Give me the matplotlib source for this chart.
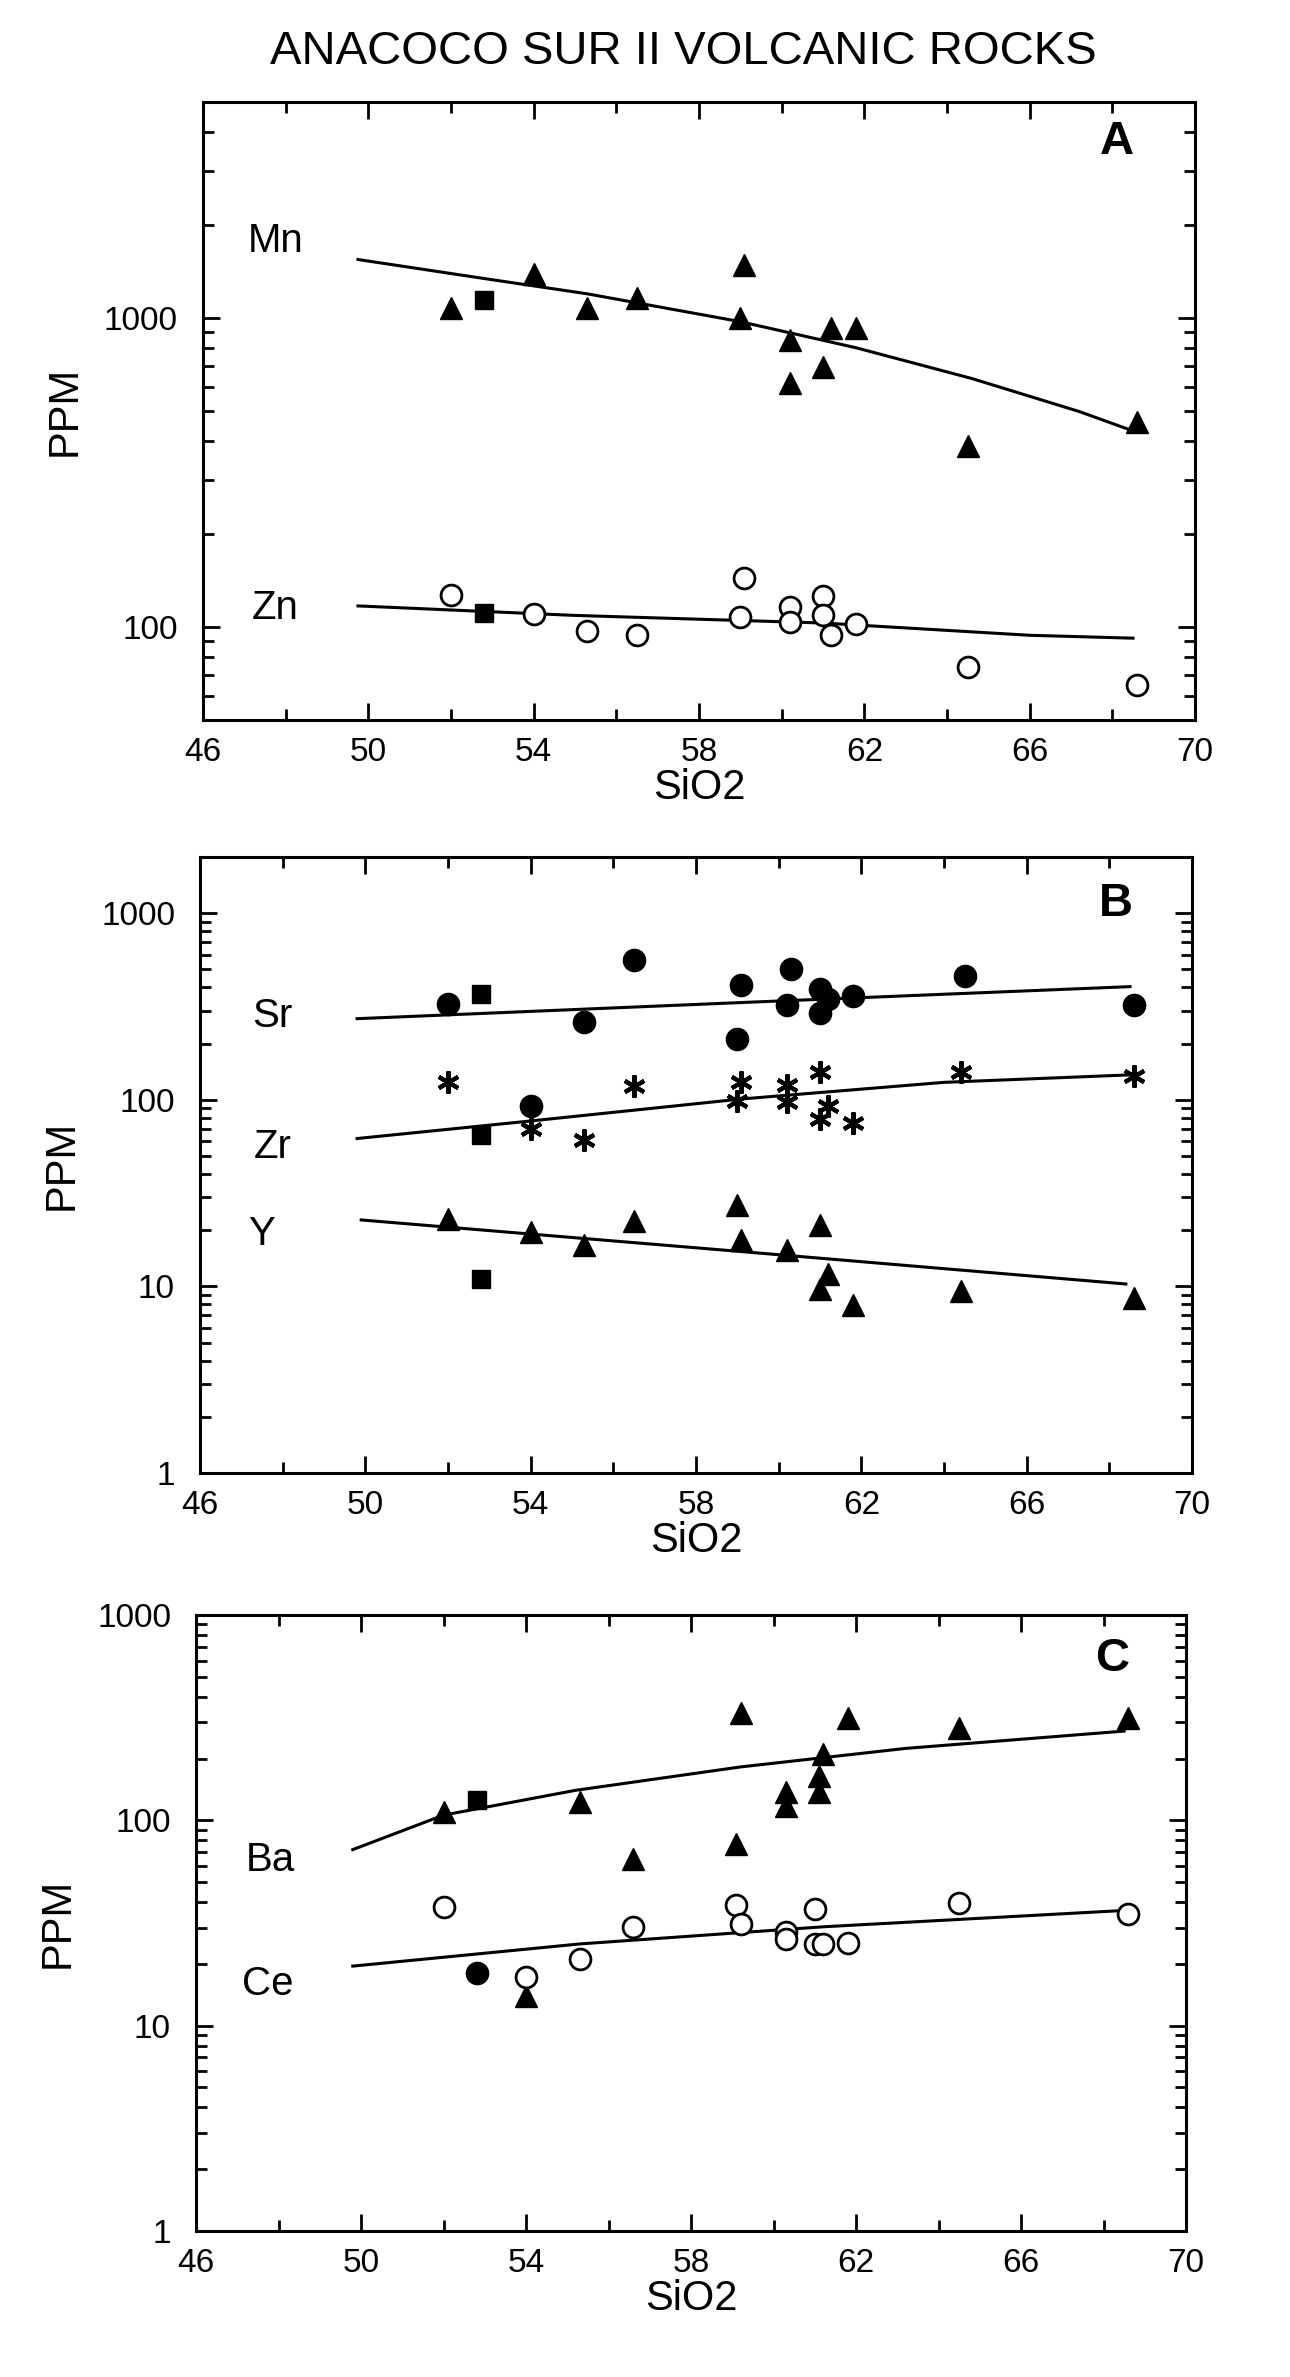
import matplotlib.pyplot as plt
from matplotlib.ticker import LogLocator, FixedLocator, MultipleLocator, NullFormatter

plt.rcParams['font.family'] = ['Liberation Sans', 'DejaVu Sans']

# ---- panel A : Mn, Zn ----
mn_x = [52.0, 54.0, 55.3, 56.5, 59.1, 59.0, 60.2, 61.2, 61.8, 60.2, 61.0, 64.5, 68.6]
mn_y = [1080, 1390, 1080, 1160, 1480, 1000, 850, 925, 925, 615, 695, 385, 460]
mn_sq_x, mn_sq_y = [52.8], [1145]
mn_fit_x = [49.75, 52.8, 55.3, 59.0, 61.8, 64.6, 67.2, 68.5]
mn_fit_y = [1546, 1342, 1197, 973, 801, 637, 498, 431]

zn_x = [52.0, 54.0, 55.3, 56.5, 59.1, 59.0, 60.2, 60.2, 61.0, 61.0, 61.2, 61.8, 64.5, 68.6]
zn_y = [127, 110, 97, 94, 144, 108, 116, 104, 126, 109, 94, 102, 74, 65]
zn_sq_x, zn_sq_y = [52.8], [111]
zn_fit_x = [49.75, 55.0, 61.0, 66.0, 68.5]
zn_fit_y = [117, 109, 103, 94, 92]

# ---- panel B : Sr, Zr, Y ----
sr_x = [52.0, 55.3, 56.5, 59.1, 59.0, 60.3, 60.2, 61.0, 61.2, 61.0, 61.8, 64.5, 68.6, 54.0]
sr_y = [328, 260, 561, 410, 211, 501, 322, 392, 345, 293, 360, 458, 322, 93]
sr_sq_x, sr_sq_y = [52.8], [368]
sr_fit_x = [49.8, 59.1, 68.5]
sr_fit_y = [272, 332, 404]

zr_x = [52.0, 54.0, 55.3, 56.5, 59.1, 59.0, 60.2, 60.2, 61.0, 61.2, 61.0, 61.8, 64.4, 68.6]
zr_y = [124, 70, 61, 119, 125, 99, 120, 97, 141, 93, 79, 75, 141, 134]
zr_sq_x, zr_sq_y = [52.8], [65]
zr_fit_x = [49.8, 54.0, 59.1, 64.0, 68.5]
zr_fit_y = [62, 77, 101, 124, 136]

y_x = [52.0, 54.0, 55.3, 56.5, 59.0, 59.1, 60.2, 61.0, 61.2, 61.0, 61.8, 64.4, 68.6]
y_y = [23, 19.6, 16.6, 22.4, 27.4, 17.8, 15.7, 21.3, 11.6, 9.7, 7.9, 9.5, 8.7]
y_sq_x, y_sq_y = [52.8], [10.9]
y_fit_x = [49.9, 59.2, 68.4]
y_fit_y = [22.7, 15.3, 10.3]

# ---- panel C : Ba, Ce ----
ba_x = [52.0, 55.3, 56.6, 59.1, 59.2, 60.3, 60.3, 61.1, 61.1, 61.2, 61.8, 64.5, 68.6, 54.0]
ba_y = [110, 123, 65, 77, 335, 138, 118, 165, 137, 211, 315, 282, 315, 14]
ba_sq_x, ba_sq_y = [52.8], [126]
ba_fit_x = [49.8, 52.0, 55.2, 59.2, 63.2, 68.5]
ba_fit_y = [72, 106, 140, 182, 224, 272]

ce_x = [52.0, 54.0, 55.3, 56.6, 59.1, 59.2, 60.3, 60.3, 61.0, 61.0, 61.2, 61.8, 64.5, 68.6]
ce_y = [37.8, 17.2, 21.1, 30.3, 38.9, 31.2, 28.7, 26.4, 37.2, 25.0, 25.0, 25.3, 39.6, 34.8]
ce_dot_x, ce_dot_y = [52.8], [18.1]
ce_fit_x = [49.8, 55.3, 61.2, 68.5]
ce_fit_y = [19.5, 25.0, 30.3, 36.4]

x_ticks = [46, 50, 54, 58, 62, 66, 70]

W, H = 1290, 2377
fig = plt.figure(figsize=(W / 100, H / 100), dpi=100)


def make_axes(left, top, right, bottom, ylim, yticks):
    ax = fig.add_axes([left / W, 1 - bottom / H, (right - left) / W, (bottom - top) / H])
    ax.set_xlim(46, 70)
    ax.set_yscale('log')
    ax.set_ylim(*ylim)
    ax.xaxis.set_major_locator(FixedLocator(x_ticks))
    ax.xaxis.set_minor_locator(MultipleLocator(2))
    ax.yaxis.set_major_locator(FixedLocator(yticks))
    ax.yaxis.set_minor_locator(LogLocator(base=10, subs=range(2, 10), numticks=20))
    ax.yaxis.set_minor_formatter(NullFormatter())
    ax.set_yticklabels([str(t) for t in yticks])
    ax.set_xticklabels([str(t) for t in x_ticks])
    ax.tick_params(which='both', direction='in', top=True, right=True, width=2)
    ax.tick_params(which='major', length=12)
    ax.tick_params(which='minor', length=8)
    ax.tick_params(axis='y', which='major', labelsize=24, pad=18)
    ax.tick_params(axis='x', which='major', labelsize=24, pad=12)
    for s in ax.spines.values():
        s.set_linewidth(2.2)
    ax.set_xlabel('SiO2', fontsize=30, labelpad=0)
    ax.set_ylabel('PPM', fontsize=30, labelpad=14)
    return ax


fig.text(0.53, 1 - 52 / H, 'ANACOCO SUR II VOLCANIC ROCKS', fontsize=34, ha='center', va='center')

line_kw = dict(color='black', lw=2.2)
tri_kw = dict(ls='none', marker='^', ms=16, color='black')
sq_kw = dict(ls='none', marker='s', ms=13, color='black')
open_kw = dict(ls='none', marker='o', ms=15, mfc='white', mec='black', mew=2)
dot_kw = dict(ls='none', marker='o', ms=16, color='black')
ast_kw = dict(ls='none', marker=(6, 2, 0), ms=16, color='black', mew=3)

# A
ax = make_axes(203, 102, 1195, 720, (50, 5000), [100, 1000])
ax.plot(mn_fit_x, mn_fit_y, **line_kw)
ax.plot(zn_fit_x, zn_fit_y, **line_kw)
ax.plot(mn_x, mn_y, **tri_kw)
ax.plot(mn_sq_x, mn_sq_y, **sq_kw)
ax.plot(zn_x, zn_y, **open_kw)
ax.plot(zn_sq_x, zn_sq_y, **sq_kw)
ax.text(47.75, 1770, 'Mn', fontsize=29, ha='center', va='center')
ax.text(47.75, 115, 'Zn', fontsize=29, ha='center', va='center')
ax.text(68.1, 3700, 'A', fontsize=34, fontweight='bold', ha='center', va='center')

# B
ax = make_axes(200, 857, 1192, 1473, (1, 2000), [1, 10, 100, 1000])
ax.plot(sr_fit_x, sr_fit_y, **line_kw)
ax.plot(zr_fit_x, zr_fit_y, **line_kw)
ax.plot(y_fit_x, y_fit_y, **line_kw)
ax.plot(sr_x, sr_y, **dot_kw)
ax.plot(sr_sq_x, sr_sq_y, **sq_kw)
ax.plot(zr_x, zr_y, **ast_kw)
ax.plot(zr_sq_x, zr_sq_y, **sq_kw)
ax.plot(y_x, y_y, **tri_kw)
ax.plot(y_sq_x, y_sq_y, **sq_kw)
ax.text(47.75, 281, 'Sr', fontsize=29, ha='center', va='center')
ax.text(47.75, 56, 'Zr', fontsize=29, ha='center', va='center')
ax.text(47.5, 19.2, 'Y', fontsize=29, ha='center', va='center')
ax.text(68.15, 1120, 'B', fontsize=34, fontweight='bold', ha='center', va='center')

# C
ax = make_axes(196, 1615, 1186, 2231, (1, 1000), [1, 10, 100, 1000])
ax.plot(ba_fit_x, ba_fit_y, **line_kw)
ax.plot(ce_fit_x, ce_fit_y, **line_kw)
ax.plot(ba_x, ba_y, **tri_kw)
ax.plot(ba_sq_x, ba_sq_y, **sq_kw)
ax.plot(ce_x, ce_y, **open_kw)
ax.plot(ce_dot_x, ce_dot_y, **dot_kw)
ax.text(47.8, 64, 'Ba', fontsize=29, ha='center', va='center')
ax.text(47.75, 15.9, 'Ce', fontsize=29, ha='center', va='center')
ax.text(68.2, 608, 'C', fontsize=34, fontweight='bold', ha='center', va='center')

fig.savefig('out.png', dpi=100)
